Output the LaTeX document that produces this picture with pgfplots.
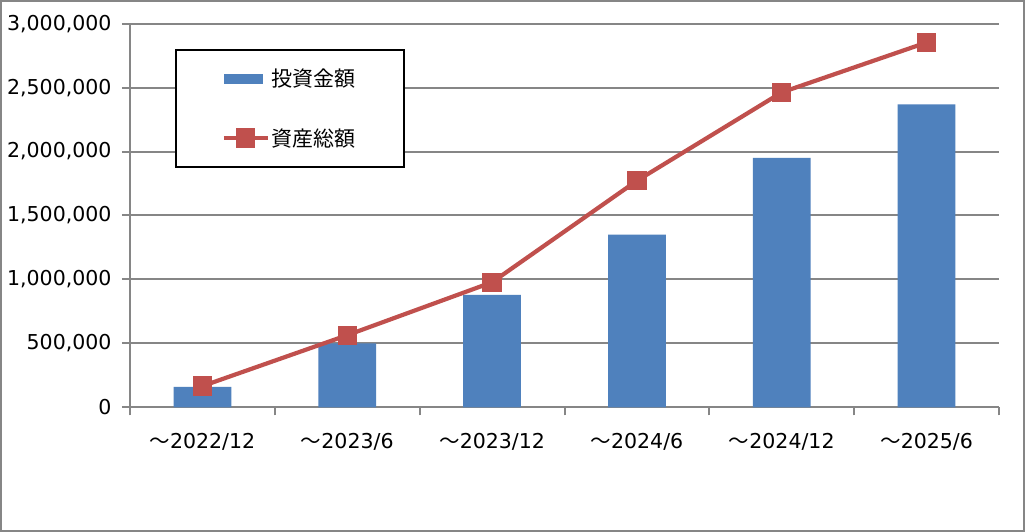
\documentclass[border=0pt]{standalone}
\usepackage{fontspec}
\setmainfont{DejaVu Sans}
\newfontfamily\cjk{Noto Sans CJK JP}
\usepackage{pgfplots}
\pgfplotsset{compat=1.18}
\definecolor{barblue}{HTML}{4F81BD}
\definecolor{linered}{HTML}{C0504D}
\definecolor{gridgray}{HTML}{868686}
\begin{document}
\begin{tikzpicture}
\useasboundingbox (0,0) rectangle (1025bp,532bp);
\fill[white] (0,0) rectangle (1025bp,532bp);
\draw[gridgray, line width=2bp] (1bp,1bp) rectangle (1024bp,531bp);
\begin{axis}[
  at={(130bp,124.7bp)}, anchor=south west,
  width=869bp, height=383.6bp, scale only axis,
  xmin=-0.5, xmax=5.5, ymin=0, ymax=3000000,
  xtick={-0.5,0.5,...,5.5},
  xticklabels={},
  extra x ticks={0,1,2,3,4,5},
  extra x tick labels={{\cjk ～}2022/12,{\cjk ～}2023/6,{\cjk ～}2023/12,{\cjk ～}2024/6,{\cjk ～}2024/12,{\cjk ～}2025/6},
  extra x tick style={major tick length=0pt, xticklabel style={yshift=-22bp}},
  ytick={0,500000,...,3000000},
  scaled y ticks=false,
  yticklabel style={/pgf/number format/fixed, /pgf/number format/1000 sep={,}, xshift=-7bp},
  /pgf/number format/assume math mode=true,
  tick label style={font=\fontsize{20.5bp}{24bp}\selectfont},
  ymajorgrids, grid style={gridgray, line width=2bp},
  axis line style={gridgray, line width=2bp},
  axis x line*=bottom, axis y line*=left,
  tick align=outside,
  major tick length=8bp,
  tick style={gridgray, line width=2bp},
  clip=false,
  legend style={at={(0.0518,0.934)}, anchor=north west, draw=black, line width=1.5bp,
    inner xsep=46bp, inner ysep=17.5bp, row sep=36bp,
    font=\cjk\fontsize{21bp}{24bp}\selectfont},
  legend cell align=left,
]
\addplot[ybar, bar width=57.7bp, fill=barblue, draw=none,
  legend image code/.code={\fill[barblue] (0bp,-5.3bp) rectangle (39bp,5.3bp);}]
  coordinates {(0,160000) (1,500000) (2,880000) (3,1350000) (4,1950000) (5,2370000)};
\addlegendentry{投資金額}
\addplot[linered, line width=4.2bp, mark=square*, mark size=7.5bp,
  mark options={draw=none, fill=linered},
  legend image code/.code={\draw[linered, line width=4.2bp] (0bp,0bp) -- (44bp,0bp);
    \fill[linered] (14.5bp,-7.5bp) rectangle (29.5bp,7.5bp);}]
  coordinates {(0,166000) (1,564000) (2,978000) (3,1772000) (4,2463000) (5,2853000)};
\addlegendentry{資産総額}
\end{axis}
\end{tikzpicture}
\end{document}
